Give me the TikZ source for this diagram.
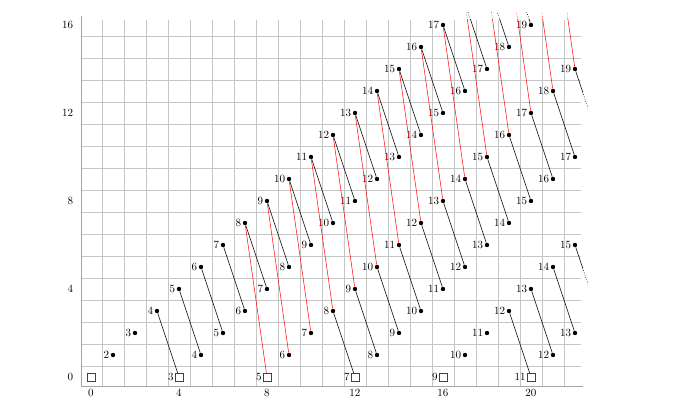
\documentclass[tikz,border=0pt]{standalone}
\begin{document}
\begin{tikzpicture}[x=20pt,y=20pt,
  gridline/.style={gray!45,line width=0.45pt},
  axisline/.style={gray!70,line width=1.1pt},
  dotc/.style={circle,fill=black,inner sep=0pt,minimum size=4pt},
  sqc/.style={rectangle,draw=black!75,line width=0.5pt,inner sep=0pt,minimum size=7pt,fill=white},
  lbl/.style={inner sep=0.3pt,label distance=0.8pt},
  blk/.style={black,line width=0.45pt},
  rd/.style={red,line width=0.45pt},
  ticklbl/.style={inner sep=0pt},
  dotpart/.style={dash pattern=on 0.7pt off 1.5pt}]
\useasboundingbox (-4.136,-1.5) rectangle (26.773,17.136);
% grid
\foreach \x in {0,...,21} \draw[gridline] (\x+0.5,-0.44) -- (\x+0.5,16.22);
\foreach \y in {0,...,15} \draw[gridline] (-0.42,\y+0.5) -- (22.27,\y+0.5);
% axes
\draw[axisline] (-0.42,16.41) -- (-0.42,-0.44) -- (22.38,-0.44);
\foreach \x in {0,4,...,20} \node[ticklbl] (xt\x) at (\x,-0.73) {\x};
\foreach \y in {0,4,...,16} \node[ticklbl,anchor=east] (yt\y) at (-0.8,\y) {\y};
% squares
\node[sqc] (c-0-0) at (0,0) {};
\foreach \x/\l in {4/3,8/5,12/7,16/9,20/11}
  \node[sqc,label={[lbl,label distance=0.6pt]left:\l}] (c-\x-0) at (\x,0) {};
% dots
\foreach \y in {1,...,16}{
  \foreach \d in {0,4,...,20}{
    \pgfmathtruncatemacro\xx{\y+\d}
    \pgfmathtruncatemacro\ll{(\xx+\y)/2+1}
    \ifnum\xx<23
      \node[dotc,label={[lbl]left:\ll}] (c-\xx-\y) at (\xx,\y) {};
    \fi
  }
}
% off-chart classes
\foreach \n in {17,...,21} \coordinate (c-\n-\n) at (\n,\n);
\coordinate (c-23-11) at (23,11);
\coordinate (c-23-3) at (23,3);
\newcommand\alledges{%
  \foreach \n in {3,...,19}{%
    \pgfmathtruncatemacro\aa{\n+1}\pgfmathtruncatemacro\bb{\n-3}%
    \draw[blk] (c-\n-\n) -- (c-\aa-\bb);}%
  \foreach \y in {3,...,14}{%
    \pgfmathtruncatemacro\ss{\y+8}\pgfmathtruncatemacro\aa{\y+9}\pgfmathtruncatemacro\bb{\y-3}%
    \draw[blk] (c-\ss-\y) -- (c-\aa-\bb);}%
  \foreach \y in {3,...,6}{%
    \pgfmathtruncatemacro\ss{\y+16}\pgfmathtruncatemacro\aa{\y+17}\pgfmathtruncatemacro\bb{\y-3}%
    \draw[blk] (c-\ss-\y) -- (c-\aa-\bb);}%
  \foreach \n in {7,...,21}{%
    \pgfmathtruncatemacro\aa{\n+1}\pgfmathtruncatemacro\bb{\n-7}%
    \draw[rd] (c-\n-\n) -- (c-\aa-\bb);}%
}
\begin{scope}
  \clip (-1,-1) rectangle (22.36,16.23);
  \alledges
\end{scope}
\begin{scope}[dotpart]
  \clip (-1,16.23) rectangle (22.36,16.55);
  \alledges
\end{scope}
\begin{scope}[dotpart]
  \clip (22.36,-1) rectangle (22.58,16.55);
  \alledges
\end{scope}
\end{tikzpicture}
\end{document}
